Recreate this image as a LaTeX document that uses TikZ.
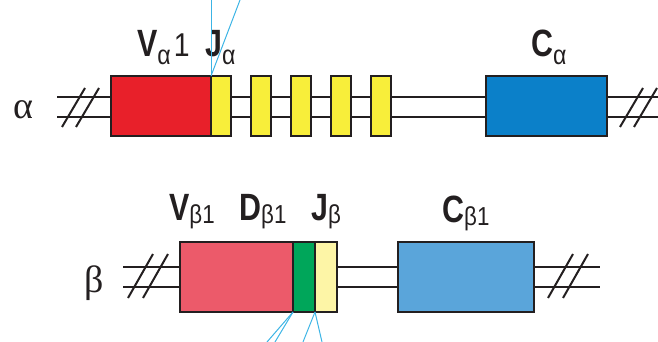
\documentclass[tikz,border=0pt]{standalone}
\usepackage{fontspec}
\newfontfamily\lbl{Liberation Sans}[FakeStretch=0.86]
\newfontfamily\lblcap{Liberation Sans Bold}[FakeStretch=0.8]
\newfontfamily\grk{Liberation Serif}
\definecolor{ink}{HTML}{231F20}
\definecolor{vred}{HTML}{E8202A}
\definecolor{jyel}{HTML}{F8EE3A}
\definecolor{cblu}{HTML}{0B80C9}
\definecolor{vpink}{HTML}{EC5A6A}
\definecolor{dgrn}{HTML}{00A65A}
\definecolor{jpale}{HTML}{FDF5A6}
\definecolor{cpale}{HTML}{5AA5DA}
\definecolor{cut}{HTML}{3CB4E5}
\tikzset{
  seg/.style={draw=ink, line width=2pt, inner sep=0pt, outer sep=0pt},
  strand/.style={draw=ink, line width=2pt},
  brk/.style={draw=ink, line width=2pt},
  cutline/.style={draw=cut, line width=1pt},
  lab/.style={inner sep=0pt, text=ink, font=\lbl\fontsize{38}{38}\selectfont},
  chain/.style={inner sep=0pt, text=ink, font=\grk\fontsize{38}{38}\selectfont},
}
\newcommand{\Cp}[1]{{\lblcap #1}}
\newcommand{\sbA}[1]{\raisebox{-8pt}{\fontsize{27}{27}\selectfont #1}}
\newcommand{\sbB}[1]{\raisebox{-3pt}{\fontsize{26}{26}\selectfont #1}}
\begin{document}
\begin{tikzpicture}[x=1pt,y=-1pt]
\useasboundingbox (0,0) rectangle (658,342);

% ---- alpha locus ----
\coordinate (aL1) at (57,97);  \coordinate (aR1) at (658,97);
\coordinate (aL2) at (57,117); \coordinate (aR2) at (658,117);
\draw[strand] (aL1) -- (aR1);
\draw[strand] (aL2) -- (aR2);
\draw[brk] (62,127) -- (85,88);
\draw[brk] (76,127) -- (99,88);
\draw[brk] (620,127) -- (643,88);
\draw[brk] (634,127) -- (657,88);

\node[seg, fill=vred, minimum width=100pt, minimum height=60pt] (vA) at (161,106) {};
\foreach \i/\x in {1/221,2/261,3/301,4/341,5/381}
  \node[seg, fill=jyel, minimum width=20pt, minimum height=60pt] (jA\i) at (\x,106) {};
\node[seg, fill=cblu, minimum width=121pt, minimum height=60pt] (cA) at (546.5,106) {};

\node[chain, anchor=base] (alab) at (23,118) {α};
\node[lab, anchor=base west] (vAl) at (137,57) {\Cp{V}\sbA{α}\hspace{3pt}{\fontsize{33}{33}\selectfont 1}};
\node[lab, anchor=base west] (jAl) at (205,57) {\Cp{J}\sbA{α}};
\node[lab, anchor=base west] (cAl) at (531,57) {\Cp{C}\sbA{α}};

\coordinate (cutA1) at (211,0);
\coordinate (cutA2) at (240,0);
\draw[cutline] (vA.north east) -- (cutA1);
\draw[cutline] (vA.north east) -- (cutA2);

% ---- beta locus ----
\coordinate (bL1) at (123,267); \coordinate (bR1) at (600,267);
\coordinate (bL2) at (123,287); \coordinate (bR2) at (600,287);
\draw[strand] (bL1) -- (bR1);
\draw[strand] (bL2) -- (bR2);
\draw[brk] (128,298) -- (153,254);
\draw[brk] (143,298) -- (168,254);
\draw[brk] (548,298) -- (573,254);
\draw[brk] (563,298) -- (588,254);

\node[seg, fill=vpink, minimum width=113pt, minimum height=70pt] (vB) at (236.5,277) {};
\node[seg, fill=dgrn, minimum width=22pt, minimum height=70pt] (dB) at (304,277) {};
\node[seg, fill=jpale, minimum width=22pt, minimum height=70pt] (jB) at (326,277) {};
\node[seg, fill=cpale, minimum width=136pt, minimum height=70pt] (cB) at (466,277) {};

\node[chain, anchor=base] (blab) at (94,292) {β};
\node[lab, anchor=base west] (vBl) at (169,220) {\Cp{V}\sbB{β1}};
\node[lab, anchor=base west] (dBl) at (239,220) {\Cp{D}\sbB{β1}};
\node[lab, anchor=base west] (jBl) at (311,220) {\Cp{J}\sbB{β}};
\node[lab, anchor=base west] (cBl) at (442,222) {\Cp{C}\sbB{β1}};

\coordinate (cutB1) at (267,342);
\coordinate (cutB2) at (275,342);
\coordinate (cutB3) at (303,342);
\coordinate (cutB4) at (322,342);
\draw[cutline] (vB.south east) -- (cutB1);
\draw[cutline] (vB.south east) -- (cutB2);
\draw[cutline] (dB.south east) -- (cutB3);
\draw[cutline] (dB.south east) -- (cutB4);
\end{tikzpicture}
\end{document}
